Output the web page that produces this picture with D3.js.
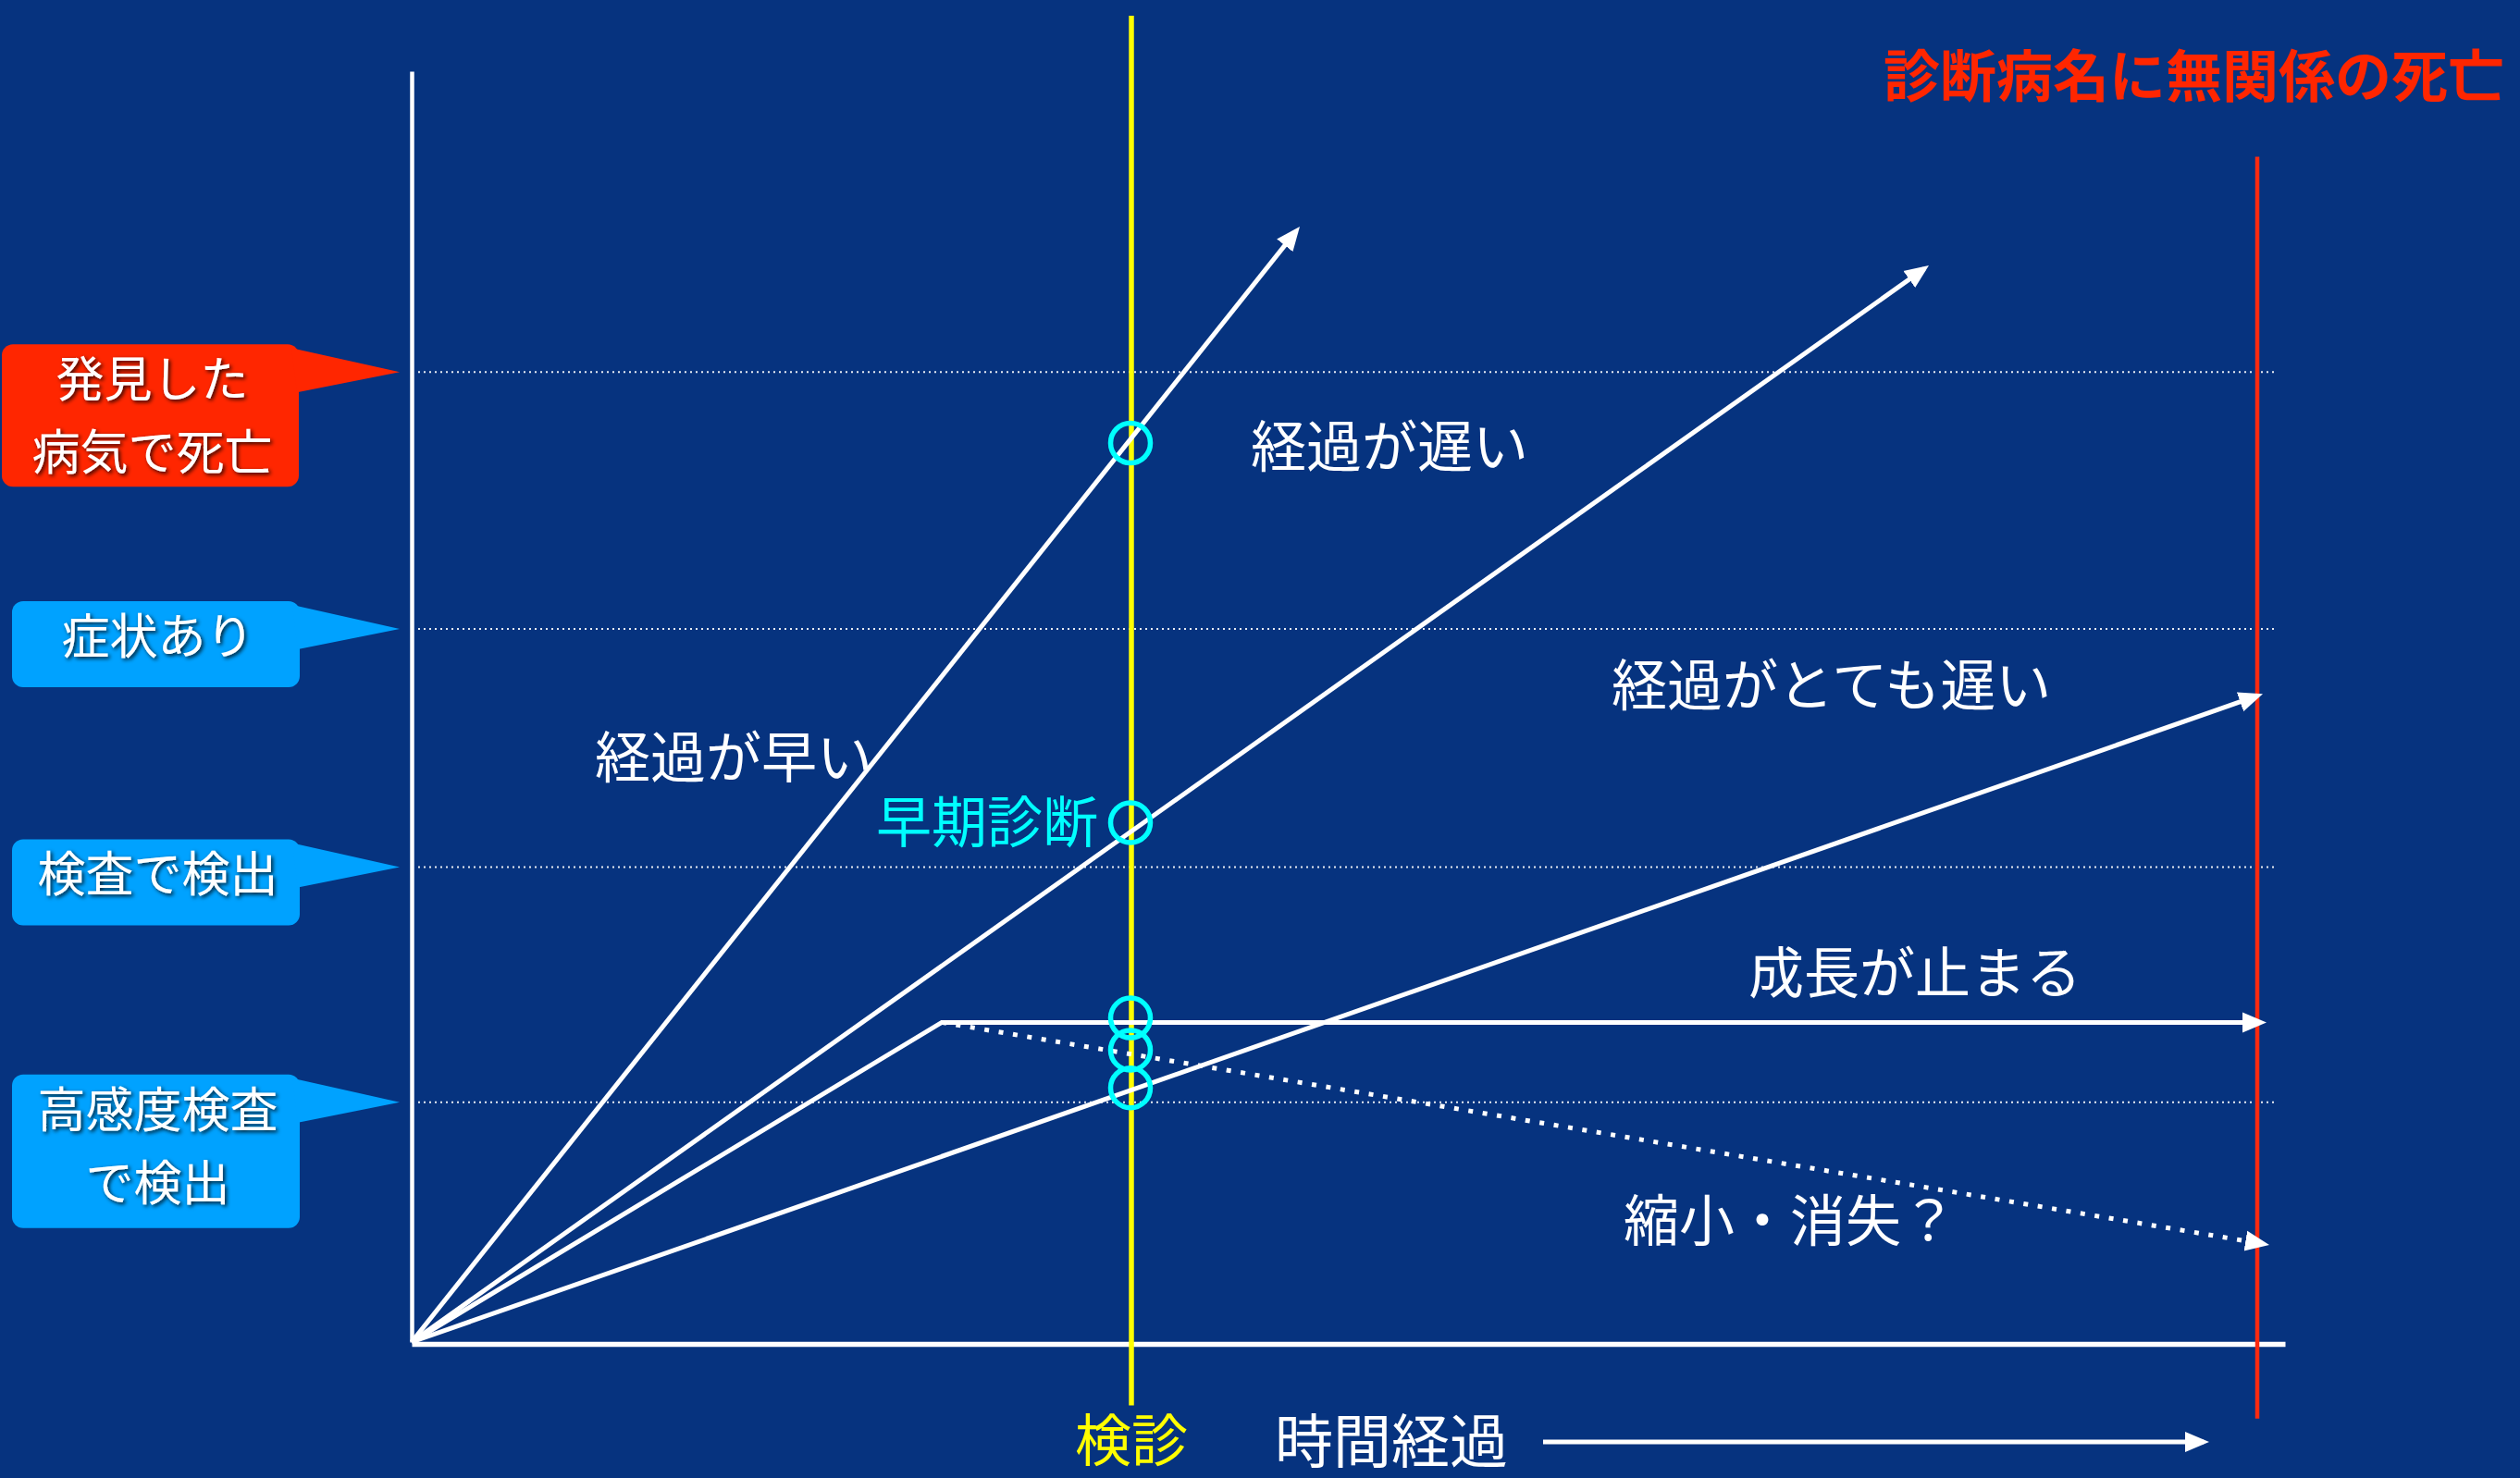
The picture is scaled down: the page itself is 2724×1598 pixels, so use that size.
<!DOCTYPE html>
<html>
<head>
<meta charset="utf-8">
<script src="https://cdn.jsdelivr.net/npm/d3@7"></script>
<style>
  body { margin: 0; background: #06337f; }
  text { font-family: "Noto Sans CJK JP", "Noto Sans", sans-serif; }
</style>
</head>
<body>
<script>
// stages of the disease on the vertical (size) axis
const stageLabels = [["発見した", "病気で死亡"], ["症状あり"], ["検査で検出"], ["高感度検査", "で検出"]];
const stageLevels = [87.4, 64.25, 42.8, 21.6];
const stageColors = ["#ff2600", "#00a2ff", "#00a2ff", "#00a2ff"];

// growth courses, [time, size]
const fastCourse = [[0, 0], [48, 100.5]];
const slowCourse = [[0, 0], [82, 97]];
const verySlowCourse = [[0, 0], [100.05, 58.4]];
const stoppedCourse = [[0, 0], [28.65, 28.8], [100.25, 28.8]];
const shrinkCourse = [[28.65, 28.8], [100.4, 8.75]];

const courseLabels = ["経過が早い", "経過が遅い", "経過がとても遅い", "成長が止まる", "縮小・消失？"];

// screening time and unrelated death time
const checkupTime = 38.9;
const checkupSpan = [-5.7, 119.5];
const deathTime = 99.75;
const deathSpan = [-6.9, 106.8];
const screeningHits = [81, 46.8, 29.2, 26.3, 22.9];

const width = 2724, height = 1598;

const svg = d3.select("body").append("svg")
    .attr("width", width)
    .attr("height", height);

svg.append("rect").attr("width", width).attr("height", height).attr("fill", "#06337f");

const defs = svg.append("defs");
defs.append("marker")
    .attr("id", "head")
    .attr("markerUnits", "userSpaceOnUse")
    .attr("viewBox", "0 -12 26 24")
    .attr("refX", 20).attr("refY", 0)
    .attr("markerWidth", 26).attr("markerHeight", 24)
    .attr("orient", "auto")
    .append("path")
    .attr("d", "M0,-11L26,0L0,11Z")
    .attr("fill", "white");

const shadow = defs.append("filter").attr("id", "shadow")
    .attr("x", "-20%").attr("y", "-20%").attr("width", "140%").attr("height", "140%");
shadow.append("feDropShadow")
    .attr("dx", 2).attr("dy", 2).attr("stdDeviation", 2)
    .attr("flood-color", "#000").attr("flood-opacity", 0.85);

const xScale = d3.scaleLinear().domain([0, 101.25]).range([445, 2470]);
const yScale = d3.scaleLinear().domain([0, 114.5]).range([1451, 77]);

// dotted stage levels
svg.append("g")
    .selectAll("line")
    .data(stageLevels)
    .enter()
    .append("line")
    .attr("x1", xScale(0.35))
    .attr("x2", xScale(100.75))
    .attr("y1", d => yScale(d))
    .attr("y2", d => yScale(d))
    .attr("stroke", "white")
    .attr("stroke-opacity", 0.9)
    .attr("stroke-width", 2)
    .attr("stroke-dasharray", "2 4");

// axes, no ticks
svg.append("g")
    .attr("transform", `translate(${xScale(0)},0)`)
    .call(d3.axisLeft(yScale).ticks(0).tickSizeOuter(0))
    .call(g => g.select(".domain").attr("stroke", "white").attr("stroke-width", 4.5));

svg.append("g")
    .attr("transform", `translate(0,${yScale(0) + 2})`)
    .call(d3.axisBottom(xScale).ticks(0).tickSizeOuter(0))
    .call(g => g.select(".domain").attr("stroke", "white").attr("stroke-width", 5.5));

// checkup line (yellow) and death line (red)
svg.append("line")
    .attr("x1", xScale(checkupTime)).attr("x2", xScale(checkupTime))
    .attr("y1", yScale(checkupSpan[0])).attr("y2", yScale(checkupSpan[1]))
    .attr("stroke", "#ffff00").attr("stroke-width", 5.5);

svg.append("line")
    .attr("x1", xScale(deathTime)).attr("x2", xScale(deathTime))
    .attr("y1", yScale(deathSpan[0])).attr("y2", yScale(deathSpan[1]))
    .attr("stroke", "#ff2a10").attr("stroke-width", 4.5);

// shorten the last segment so the arrow tip lands on the data point
function shortened(pts, px) {
    const p = pts.map(d => [xScale(d[0]), yScale(d[1])]);
    const a = p[p.length - 2], b = p[p.length - 1];
    const len = Math.hypot(b[0] - a[0], b[1] - a[1]);
    p[p.length - 1] = [b[0] - (b[0] - a[0]) * px / len, b[1] - (b[1] - a[1]) * px / len];
    return p;
}

const courses = [
    {pts: fastCourse, dotted: false},
    {pts: slowCourse, dotted: false},
    {pts: verySlowCourse, dotted: false},
    {pts: stoppedCourse, dotted: false},
    {pts: shrinkCourse, dotted: true}
];

const line = d3.line();

svg.append("g")
    .selectAll("path")
    .data(courses)
    .enter()
    .append("path")
    .attr("d", d => line(shortened(d.pts, 6)))
    .attr("fill", "none")
    .attr("stroke", "white")
    .attr("stroke-width", 5)
    .attr("stroke-dasharray", d => d.dotted ? "5 10.6" : null)
    .attr("stroke-linejoin", "miter")
    .attr("marker-end", "url(#head)");

// screening hits
svg.append("g")
    .selectAll("circle")
    .data(screeningHits)
    .enter()
    .append("circle")
    .attr("cx", xScale(checkupTime) - 1)
    .attr("cy", d => yScale(d))
    .attr("r", 21.5)
    .attr("fill", "none")
    .attr("stroke", "#00ffff")
    .attr("stroke-width", 5.5);

// course labels (start time, centre size)
const labelPlace = [[9.9, 52.6], [45.35, 80.6], [64.85, 59.1], [72.25, 33.2], [65.5, 10.9]];
svg.append("g")
    .selectAll("text")
    .data(courseLabels)
    .enter()
    .append("text")
    .attr("x", (d, i) => xScale(labelPlace[i][0]))
    .attr("y", (d, i) => yScale(labelPlace[i][1]))
    .attr("dy", "0.36em")
    .attr("fill", "white")
    .style("font-size", "60px")
    .text(d => d);

svg.append("text")
    .attr("x", xScale(37.1))
    .attr("y", yScale(46.8))
    .attr("dy", "0.36em")
    .attr("text-anchor", "end")
    .attr("fill", "#00ffff")
    .style("font-size", "60px")
    .text("早期診断");

// callouts on the left
const callouts = svg.append("g");
stageLabels.forEach((lines, i) => {
    const tipY = yScale(stageLevels[i]);
    const left = i === 0 ? 2 : 13, right = i === 0 ? 323 : 324;
    const h = lines.length === 1 ? 93 : (i === 0 ? 154 : 166);
    const g = callouts.append("g");
    g.append("rect")
        .attr("x", left).attr("y", tipY - 30)
        .attr("width", right - left).attr("height", h)
        .attr("rx", 12)
        .attr("fill", stageColors[i]);
    g.append("path")
        .attr("d", `M${right - 8},${tipY - 26}L432,${tipY}L${right - 2},${tipY + 22}Z`)
        .attr("fill", stageColors[i]);
    g.selectAll("text")
        .data(lines)
        .enter()
        .append("text")
        .attr("x", (left + right) / 2 + 2)
        .attr("y", (d, k) => tipY + 8 + k * 79)
        .attr("dy", "0.36em")
        .attr("text-anchor", "middle")
        .attr("fill", "white")
        .attr("filter", "url(#shadow)")
        .style("font-size", "52px")
        .text(d => d);
});

// title at top right
svg.append("text")
    .attr("x", 2036)
    .attr("y", 83)
    .attr("dy", "0.36em")
    .attr("fill", "#ff2600")
    .style("font-size", "61px")
    .style("font-weight", "bold")
    .text("診断病名に無関係の死亡");

// bottom labels
svg.append("text")
    .attr("x", xScale(checkupTime))
    .attr("y", 1558)
    .attr("dy", "0.36em")
    .attr("text-anchor", "middle")
    .attr("fill", "#ffff00")
    .style("font-size", "61px")
    .text("検診");

svg.append("text")
    .attr("x", 1378)
    .attr("y", 1558)
    .attr("dy", "0.36em")
    .attr("fill", "white")
    .style("font-size", "63px")
    .text("時間経過");

svg.append("path")
    .attr("d", line([[1668, 1559], [2382, 1559]]))
    .attr("stroke", "white")
    .attr("stroke-width", 5)
    .attr("marker-end", "url(#head)");
</script>
</body>
</html>
